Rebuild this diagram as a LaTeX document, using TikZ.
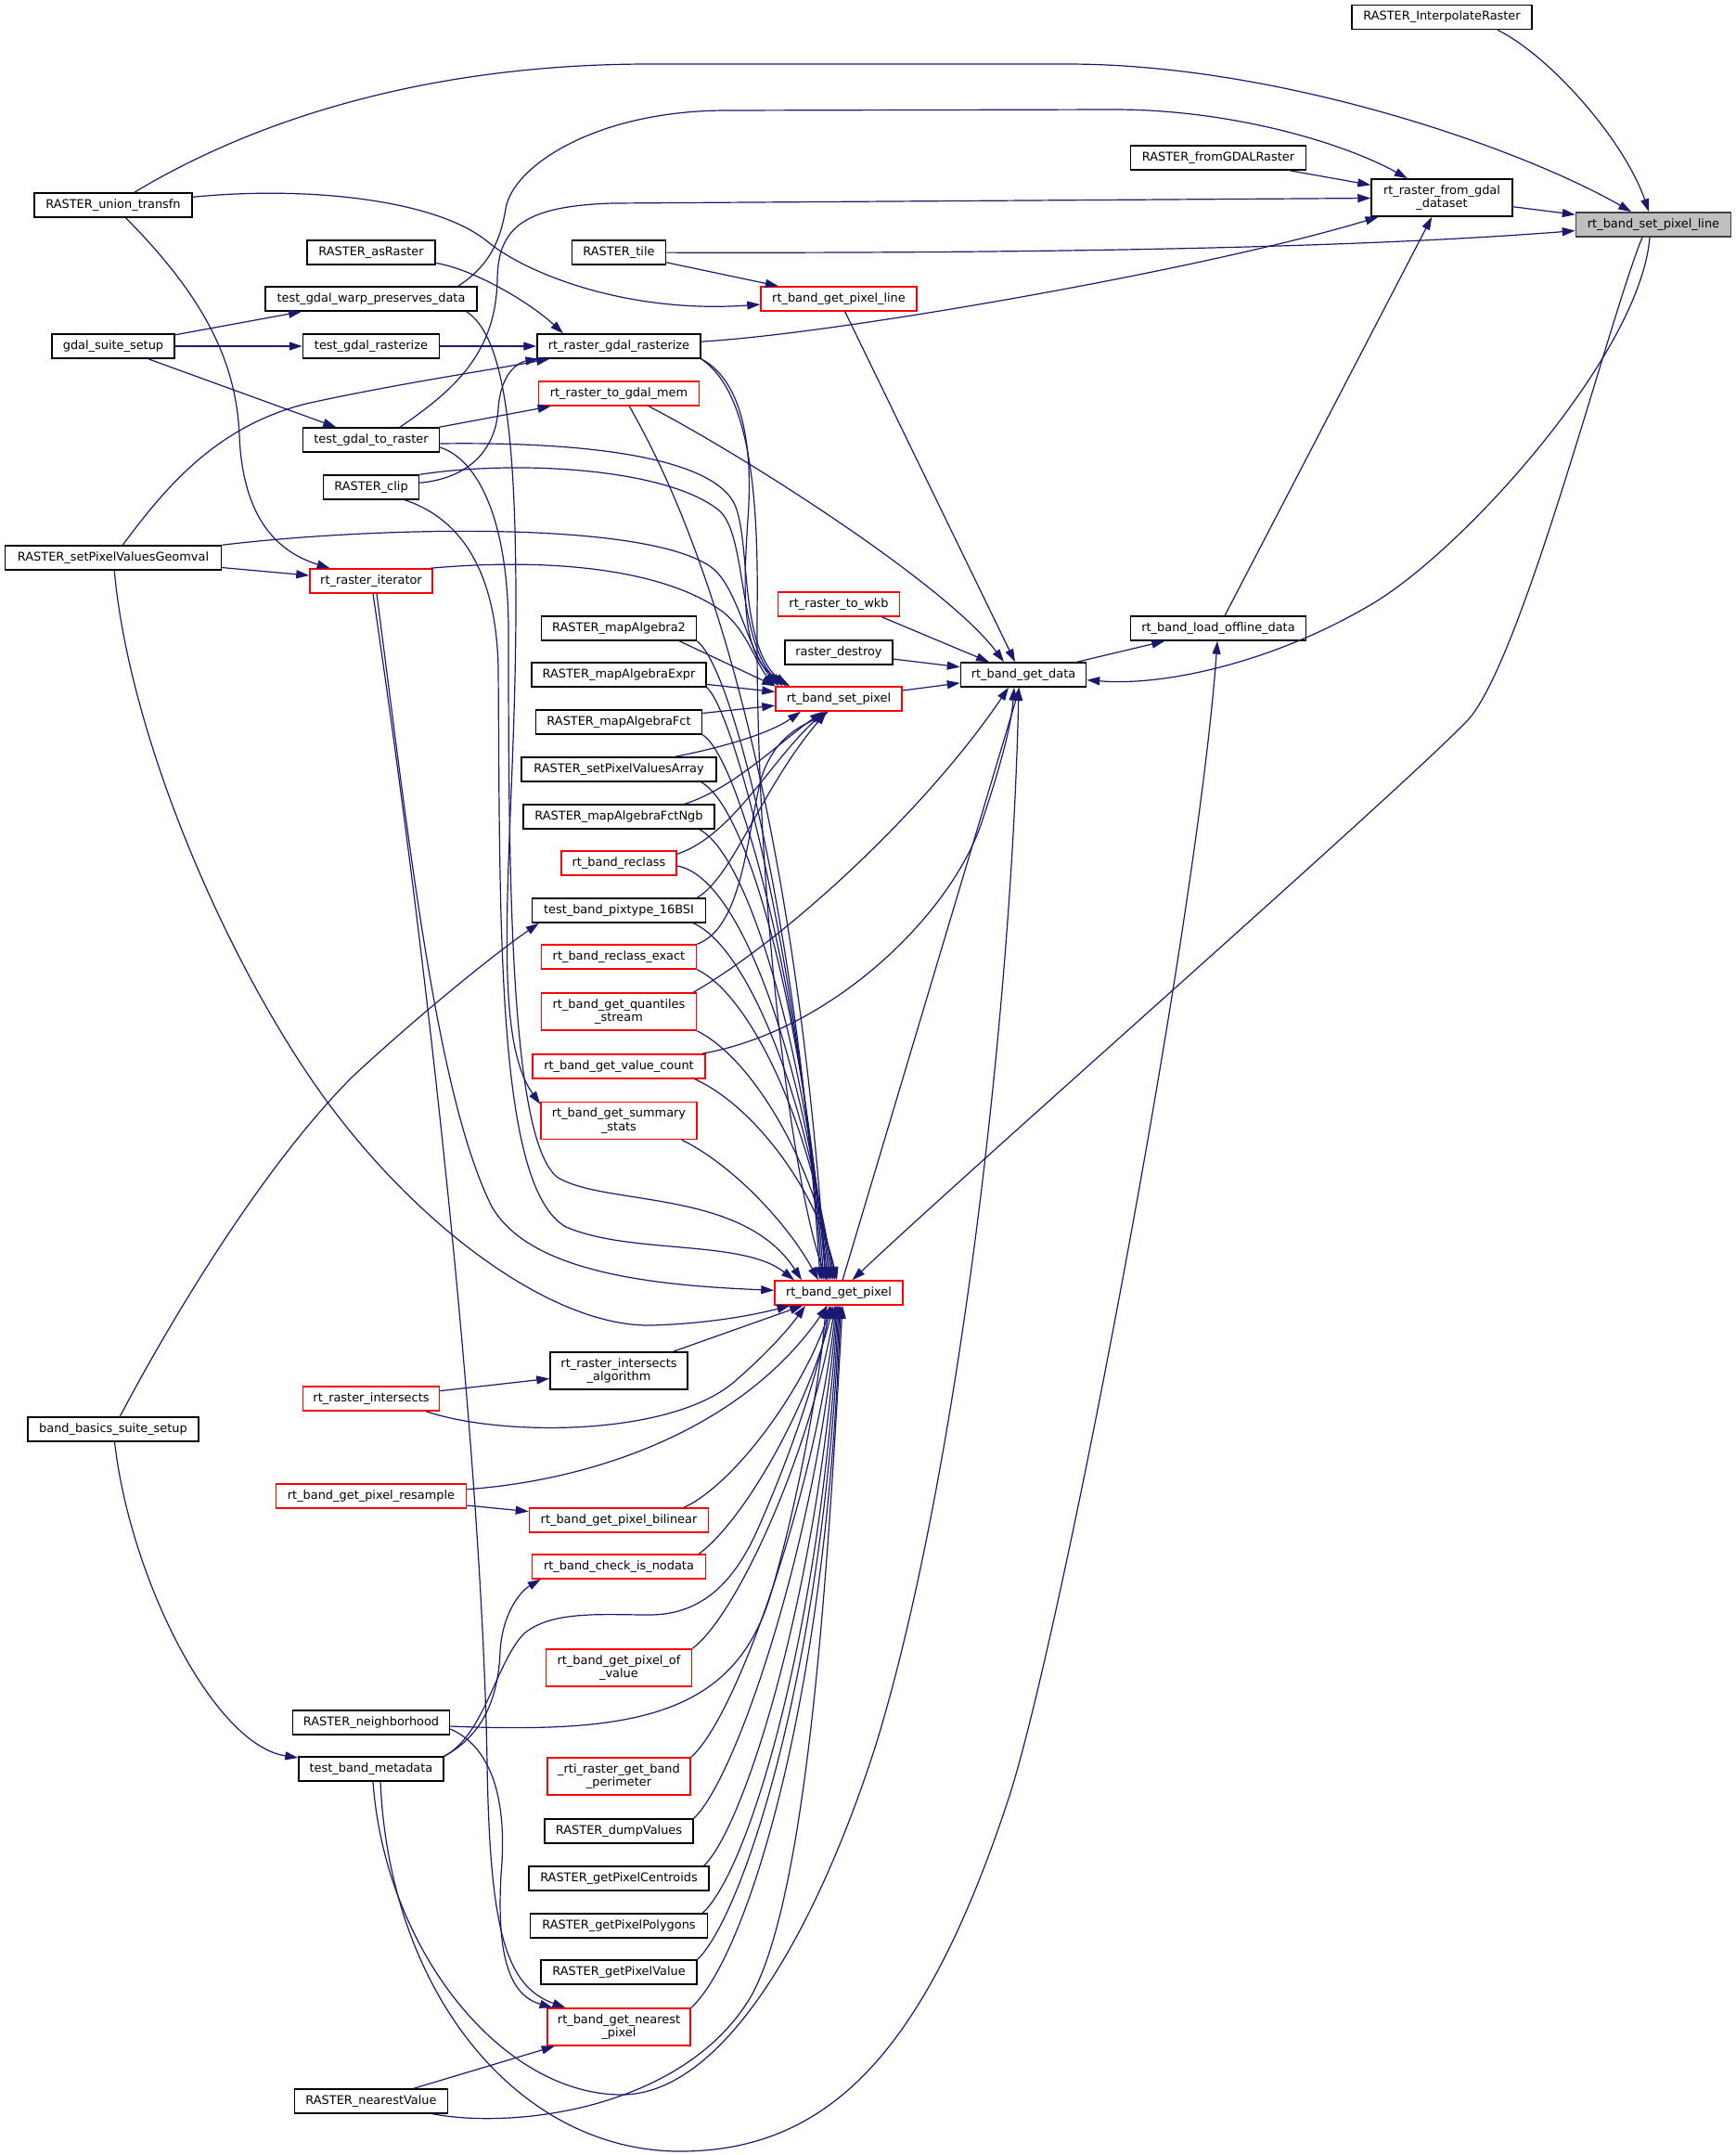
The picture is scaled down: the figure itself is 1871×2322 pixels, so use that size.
\documentclass[tikz,border=0pt]{standalone}
\usepackage{fontspec}
\setmainfont{DejaVu Sans}
\usetikzlibrary{arrows.meta}
\definecolor{edgec}{HTML}{191970}
\definecolor{focusc}{HTML}{BFBFBF}
\definecolor{focusb}{HTML}{404040}
\newcommand\nfont{\fontsize{12.9pt}{14.5pt}\selectfont}
\begin{document}
\begin{tikzpicture}[x=1pt,y=-1pt,
  box/.style={draw=black, line width=1.5pt, fill=white, minimum height=26pt, inner xsep=2pt, inner ysep=1pt, font=\nfont, align=center},
  rbox/.style={box, draw=red},
  two/.style={minimum height=40pt},
  edg/.style={draw=edgec, line width=1.2pt, -{Triangle[length=14pt,width=9pt]}}]
\fill[white] (0,0) rectangle (1871,2322);
\useasboundingbox (0,0) rectangle (1871,2322);

% ---------- nodes ----------
\node[box, minimum width=194pt] (interp) at (1554,18.5) {RASTER\_InterpolateRaster};
\node[box, minimum width=189pt] (fromgdalr) at (1313,170) {RASTER\_fromGDALRaster};
\node[box, two, minimum width=152pt] (fromgdal) at (1554,213) {rt\_raster\_from\_gdal\\\_dataset};
\node[box, draw=focusb, fill=focusc, minimum width=167pt] (F) at (1782,242) {rt\_band\_set\_pixel\_line};
\node[box, minimum width=170pt] (union) at (122,221) {RASTER\_union\_transfn};
\node[box, minimum width=138pt] (asraster) at (400,272) {RASTER\_asRaster};
\node[box, minimum width=101pt] (tile) at (667,272) {RASTER\_tile};
\node[box, minimum width=228pt] (warp) at (400,322) {test\_gdal\_warp\_preserves\_data};
\node[rbox, minimum width=168pt] (gpl) at (904,322) {rt\_band\_get\_pixel\_line};
\node[box, minimum width=132pt] (suite) at (122,373) {gdal\_suite\_setup};
\node[box, minimum width=147pt] (tgr) at (400,373) {test\_gdal\_rasterize};
\node[box, minimum width=176pt] (rasterize) at (667,373) {rt\_raster\_gdal\_rasterize};
\node[rbox, minimum width=173pt] (togdalmem) at (667,424) {rt\_raster\_to\_gdal\_mem};
\node[box, minimum width=147pt] (toraster) at (400,474) {test\_gdal\_to\_raster};
\node[box, minimum width=103pt] (clip) at (400,525) {RASTER\_clip};
\node[box, minimum width=233pt] (geomval) at (122,601) {RASTER\_setPixelValuesGeomval};
\node[rbox, minimum width=132pt] (iterator) at (400,626) {rt\_raster\_iterator};
\node[rbox, minimum width=131pt] (towkb) at (904,651) {rt\_raster\_to\_wkb};
\node[box, minimum width=167pt] (ma2) at (667,677) {RASTER\_mapAlgebra2};
\node[box, minimum width=189pt] (loadoff) at (1313,677) {rt\_band\_load\_offline\_data};
\node[box, minimum width=116pt] (destroy) at (904,703) {raster\_destroy};
\node[box, minimum width=135pt] (getdata) at (1103,727) {rt\_band\_get\_data};
\node[box, minimum width=188pt] (maexpr) at (667,727) {RASTER\_mapAlgebraExpr};
\node[rbox, minimum width=136pt] (setpixel) at (904,753) {rt\_band\_set\_pixel};
\node[box, minimum width=179pt] (mafct) at (667,778) {RASTER\_mapAlgebraFct};
\node[box, minimum width=210pt] (spva) at (667,829) {RASTER\_setPixelValuesArray};
\node[box, minimum width=206pt] (fctngb) at (667,880) {RASTER\_mapAlgebraFctNgb};
\node[rbox, minimum width=124pt] (reclass) at (667,930) {rt\_band\_reclass};
\node[box, minimum width=187pt] (pixtype) at (667,981) {test\_band\_pixtype\_16BSI};
\node[rbox, minimum width=167pt] (reclassex) at (667,1031) {rt\_band\_reclass\_exact};
\node[rbox, two, minimum width=167pt] (quantiles) at (667,1090) {rt\_band\_get\_quantiles\\\_stream};
\node[rbox, minimum width=186pt] (valuecount) at (667,1149) {rt\_band\_get\_value\_count};
\node[rbox, two, minimum width=168pt] (summary) at (667,1207.5) {rt\_band\_get\_summary\\\_stats};
\node[rbox, minimum width=138pt] (getpixel) at (904,1393) {rt\_band\_get\_pixel};
\node[box, two, minimum width=148pt] (algorithm) at (667,1477) {rt\_raster\_intersects\\\_algorithm};
\node[rbox, minimum width=147pt] (intersects) at (400,1507) {rt\_raster\_intersects};
\node[box, minimum width=184pt] (bbsuite) at (122,1540) {band\_basics\_suite\_setup};
\node[rbox, minimum width=205pt] (resample) at (400,1612) {rt\_band\_get\_pixel\_resample};
\node[rbox, minimum width=193pt] (bilinear) at (667,1638) {rt\_band\_get\_pixel\_bilinear};
\node[rbox, minimum width=187pt] (nodata) at (667,1688) {rt\_band\_check\_is\_nodata};
\node[rbox, two, minimum width=157pt] (pixelof) at (667,1797) {rt\_band\_get\_pixel\_of\\\_value};
\node[box, minimum width=169pt] (neighborhood) at (400,1856) {RASTER\_neighborhood};
\node[box, minimum width=156pt] (tbm) at (400,1906) {test\_band\_metadata};
\node[rbox, two, minimum width=154pt] (perimeter) at (667,1914) {\_rti\_raster\_get\_band\\\_perimeter};
\node[box, minimum width=160pt] (dump) at (667,1973) {RASTER\_dumpValues};
\node[box, minimum width=194pt] (centroids) at (667,2024) {RASTER\_getPixelCentroids};
\node[box, minimum width=191pt] (polygons) at (667,2075) {RASTER\_getPixelPolygons};
\node[box, minimum width=168pt] (getpixelvalue) at (667,2125) {RASTER\_getPixelValue};
\node[rbox, two, minimum width=154pt] (nearest) at (667,2184) {rt\_band\_get\_nearest\\\_pixel};
\node[box, minimum width=165pt] (nearestvalue) at (400,2264) {RASTER\_nearestValue};

% ---------- top edges ----------
\draw[edg] ([xshift=60pt]interp.south) .. controls (1670,60) and (1750,150) .. (F);
\draw[edg] (union) .. controls (290,120) and (480,69) .. (700,69) -- (1150,69) .. controls (1380,69) and (1640,160) .. (F);
\draw[edg] (fromgdal) -- (F);
\draw[edg] (tile) .. controls (1100,273) and (1450,268) .. (F);
\draw[edg] (fromgdalr) -- (fromgdal);
\draw[edg] ([xshift=-21pt]warp.north east) .. controls (530,285) and (540,255) .. (545,225) .. controls (552,180) and (640,120) .. (780,119) -- (1200,118) .. controls (1330,118) and (1450,155) .. (fromgdal);
\draw[edg] ([xshift=31pt]toraster.north) .. controls (490,420) and (535,380) .. (536,300) .. controls (537,245) and (565,222) .. (660,219) -- (fromgdal);
\draw[edg] (rasterize) .. controls (900,360) and (1300,290) .. (fromgdal);
\draw[edg] (loadoff) -- (fromgdal);
\draw[edg] (union) .. controls (330,200) and (470,215) .. (525,260) .. controls (570,297) and (680,338) .. (gpl);
\draw[edg] (tile) -- (gpl);
\draw[edg] (gpl) -- ([xshift=-9pt]getdata.north);
\draw[edg] (asraster) .. controls (510,290) and (570,325) .. ([xshift=-60pt]rasterize.north);
\draw[edg] (suite) -- (warp);
\draw[edg] (suite) -- (tgr);
\draw[edg] (suite) -- (toraster);
\draw[edg] (tgr) -- (rasterize);
\draw[edg] (geomval) .. controls (175,530) and (230,460) .. (330,435) .. controls (420,415) and (520,400) .. (rasterize);
\draw[edg] (clip) .. controls (510,515) and (535,480) .. (537,440) .. controls (540,400) and (560,390) .. (rasterize);
\draw[edg] (toraster) -- (togdalmem);
\draw[edg] (union) .. controls (220,320) and (255,390) .. (258,470) .. controls (262,560) and (300,595) .. (iterator);
\draw[edg] (geomval) -- (iterator);

% ---------- get_data ----------
\draw[edg] ([xshift=-55pt]togdalmem.south east) .. controls (800,490) and (1020,630) .. ([xshift=-21pt]getdata.north);
\draw[edg] ([xshift=-20pt]towkb.south east) -- ([xshift=-37pt]getdata.north);
\draw[edg] (destroy) -- (getdata);
\draw[edg] (setpixel) -- (getdata);
\draw[edg] (getdata) -- (loadoff);
\draw[edg] ([xshift=-4pt]F.south) .. controls (1768,380) and (1580,590) .. (1480,650) .. controls (1380,710) and (1260,740) .. (getdata);
\draw[edg] ([xshift=-12pt]F.south) .. controls (1735,340) and (1640,715) .. (1581,777) .. controls (1500,860) and (1050,1255) .. (getpixel);
\draw[edg] (getpixel) -- (getdata);
\draw[edg] ([xshift=-4pt]quantiles.north east) .. controls (850,1010) and (1000,870) .. ([xshift=-16pt]getdata.south);
\draw[edg] ([xshift=-4pt]valuecount.north east) .. controls (900,1110) and (1030,980) .. (1060,880) .. controls (1080,820) and (1090,780) .. ([xshift=-10pt]getdata.south);
\draw[edg] ([xshift=2pt]tbm.south) .. controls (415,2100) and (540,2257) .. (670,2257) .. controls (780,2257) and (880,2080) .. (944,1880) .. controls (1030,1600) and (1090,1100) .. ([xshift=-5pt]getdata.south);
\draw[edg] ([xshift=10pt]tbm.south) .. controls (420,2150) and (560,2318) .. (733,2318) .. controls (900,2318) and (1000,2200) .. (1086,1941) .. controls (1140,1780) and (1290,1000) .. (loadoff);

% ---------- set_pixel ----------
\draw[edg] ([xshift=-19pt]ma2.south east) -- (setpixel.north west);
\draw[edg] (maexpr) -- (setpixel);
\draw[edg] (mafct) -- (setpixel);
\draw[edg] ([xshift=-45pt]spva.north east) .. controls (780,805) and (830,790) .. ([xshift=-41pt]setpixel.south);
\draw[edg] ([xshift=-33pt]fctngb.north east) .. controls (790,850) and (840,800) .. ([xshift=-17pt]setpixel.south);
\draw[edg] ([yshift=-4pt]reclass.north east) .. controls (790,900) and (830,820) .. ([xshift=-15pt]setpixel.south);
\draw[edg] ([xshift=-10pt]pixtype.north east) .. controls (790,945) and (820,850) .. ([xshift=-13pt]setpixel.south);
\draw[edg] (reclassex.north east) .. controls (800,1000) and (805,900) .. (820,840) .. controls (835,790) and (870,780) .. ([xshift=-11pt]setpixel.south);
\draw[edg] (rasterize.south east) .. controls (800,410) and (812,480) .. (806,560) .. controls (800,650) and (800,710) .. ([xshift=16pt]setpixel.north west);
\draw[edg] ([yshift=-4pt]toraster.east) .. controls (620,476) and (760,490) .. (790,540) .. controls (810,575) and (795,690) .. ([xshift=12pt]setpixel.north west);
\draw[edg] (clip.north east) .. controls (560,495) and (720,505) .. (775,550) .. controls (805,575) and (795,690) .. ([xshift=8pt]setpixel.north west);
\draw[edg] (geomval.north east) .. controls (400,568) and (690,560) .. (765,610) .. controls (795,630) and (805,700) .. ([xshift=4pt]setpixel.north west);
\draw[edg] ([xshift=-3pt]iterator.north east) .. controls (600,600) and (720,615) .. (780,660) .. controls (805,680) and (815,715) .. (setpixel.north west);

% ---------- get_pixel from above ----------
\draw[edg] (ma2.south east) .. controls (790,720) and (860,1000) .. ([xshift=-20pt]getpixel.north);
\draw[edg] (maexpr.south east) .. controls (790,765) and (860,1020) .. ([xshift=-18pt]getpixel.north);
\draw[edg] (mafct.south east) .. controls (795,815) and (862,1050) .. ([xshift=-16pt]getpixel.north);
\draw[edg] ([xshift=-17pt]spva.south east) .. controls (805,870) and (864,1080) .. ([xshift=-14pt]getpixel.north);
\draw[edg] ([xshift=-17pt]fctngb.south east) .. controls (805,920) and (866,1120) .. ([xshift=-12pt]getpixel.north);
\draw[edg] ([yshift=-3pt]reclass.east) .. controls (800,945) and (868,1150) .. ([xshift=-10pt]getpixel.north);
\draw[edg] ([xshift=-14pt]pixtype.south east) .. controls (805,1020) and (870,1180) .. ([xshift=-8pt]getpixel.north);
\draw[edg] (reclassex.south east) .. controls (805,1070) and (872,1200) .. ([xshift=-6pt]getpixel.north);
\draw[edg] (quantiles.south east) .. controls (810,1140) and (876,1250) .. ([xshift=-4pt]getpixel.north);
\draw[edg] ([xshift=-12pt]valuecount.south east) .. controls (810,1190) and (880,1280) .. ([xshift=-2pt]getpixel.north);
\draw[edg] ([xshift=-17pt]summary.south east) .. controls (790,1255) and (850,1320) .. ([xshift=-22pt]getpixel.north);
\draw[edg] ([xshift=-76pt]togdalmem.south east) .. controls (800,650) and (865,1000) .. ([xshift=-14pt]getpixel.north);
\draw[edg] (rasterize.south east) .. controls (805,420) and (818,520) .. (816,660) .. controls (814,1000) and (860,1300) .. ([xshift=-12pt]getpixel.north);
\draw[edg] ([xshift=-12pt]warp.south east) .. controls (540,360) and (556,450) .. (556,650) .. controls (556,900) and (525,1110) .. ([yshift=-3pt]summary.north west);
\draw[edg] ([yshift=-8pt]toraster.east) .. controls (515,495) and (548,560) .. (548,680) .. controls (548,950) and (550,1225) .. (600,1268) .. controls (650,1300) and (800,1280) .. ([xshift=-40pt]getpixel.north);
\draw[edg] ([xshift=-16pt]clip.south east) .. controls (500,560) and (535,620) .. (537,720) .. controls (539,1000) and (535,1280) .. (610,1322) .. controls (680,1352) and (800,1335) .. ([xshift=-48pt]getpixel.north);
\draw[edg] ([xshift=6pt]iterator.south) .. controls (440,900) and (470,1180) .. (530,1300) .. controls (570,1370) and (700,1385) .. (getpixel);
\draw[edg] ([xshift=2pt]iterator.south) .. controls (470,1100) and (520,1600) .. (525,1900) .. controls (528,2080) and (545,2140) .. (nearest);
\draw[edg] (geomval) .. controls (140,800) and (250,1050) .. (357,1193) .. controls (460,1330) and (600,1430) .. (702,1428) .. controls (770,1426) and (820,1415) .. (getpixel);

% ---------- lower left ----------
\draw[edg] (bbsuite) .. controls (180,1430) and (280,1260) .. (380,1160) .. controls (450,1095) and (530,1030) .. ([xshift=8pt]pixtype.south west);
\draw[edg] (bbsuite) .. controls (140,1700) and (230,1880) .. (tbm);
\draw[edg] (intersects) -- (algorithm);
\draw[edg] ([xshift=-15pt]intersects.south east) .. controls (540,1548) and (720,1548) .. (790,1490) .. controls (825,1460) and (850,1432) .. ([xshift=-36pt]getpixel.south);
\draw[edg] (algorithm) -- (getpixel);
\draw[edg] (resample) -- (bilinear);
\draw[edg] (resample) .. controls (640,1595) and (800,1540) .. ([xshift=-12pt]getpixel.south);
\draw[edg] ([xshift=-27pt]bilinear.north east) .. controls (790,1600) and (865,1500) .. ([xshift=-8pt]getpixel.south);
\draw[edg] ([xshift=-8pt]nodata.north east) .. controls (800,1640) and (870,1520) .. ([xshift=-6pt]getpixel.south);
\draw[edg] (pixelof.north east) .. controls (795,1740) and (875,1560) .. ([xshift=-4pt]getpixel.south);
\draw[edg] (perimeter.north east) .. controls (795,1850) and (880,1600) .. ([xshift=-3pt]getpixel.south);
\draw[edg] (dump.north east) .. controls (795,1915) and (882,1650) .. ([xshift=-2pt]getpixel.south);
\draw[edg] ([xshift=-6pt]centroids.north east) .. controls (805,1965) and (884,1700) .. ([xshift=-1pt]getpixel.south);
\draw[edg] ([xshift=-6pt]polygons.north east) .. controls (808,2015) and (886,1750) .. (getpixel.south);
\draw[edg] (getpixelvalue.north east) .. controls (800,2065) and (888,1800) .. ([xshift=1pt]getpixel.south);
\draw[edg] (nearest.north east) .. controls (800,2115) and (890,1850) .. ([xshift=2pt]getpixel.south);
\draw[edg] ([yshift=-4pt]neighborhood.east) .. controls (680,1868) and (790,1850) .. (830,1720) .. controls (860,1620) and (885,1480) .. ([xshift=-14pt]getpixel.south);
\draw[edg] ([yshift=-7pt]neighborhood.east) .. controls (525,1880) and (548,1930) .. (540,2020) .. controls (535,2110) and (550,2150) .. (nearest);
\draw[edg] (tbm.north east) .. controls (520,1870) and (537,1830) .. (539,1780) .. controls (541,1740) and (560,1715) .. ([xshift=10pt]nodata.south west);
\draw[edg] (tbm.north east) .. controls (522,1870) and (535,1790) .. (565,1760) .. controls (595,1735) and (650,1740) .. (700,1740) .. controls (760,1740) and (795,1700) .. (820,1640) .. controls (855,1560) and (885,1470) .. ([xshift=-10pt]getpixel.south);
\draw[edg] (nearestvalue) -- (nearest);
\draw[edg] ([xshift=-17pt]nearestvalue.south east) .. controls (560,2295) and (740,2270) .. (810,2150) .. controls (870,2040) and (892,1700) .. ([xshift=4pt]getpixel.south);
\end{tikzpicture}
\end{document}
